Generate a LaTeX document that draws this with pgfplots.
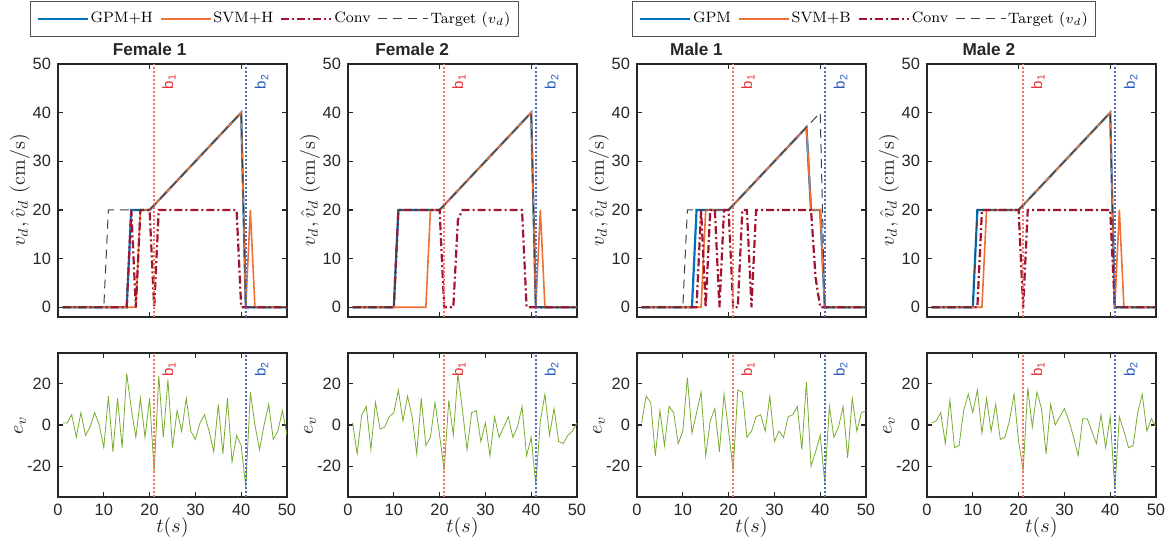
\documentclass[border=0pt]{standalone}
\usepackage{fontspec}
\setsansfont{Liberation Sans}
\usepackage{pgfplots}
\usepackage{pgfplotstable}
\pgfplotsset{compat=1.18}

\definecolor{gpm}{RGB}{0,114,189}
\definecolor{svm}{RGB}{237,112,52}
\definecolor{conv}{RGB}{162,20,47}
\definecolor{errg}{RGB}{119,172,48}
\definecolor{bone}{RGB}{250,110,90}
\definecolor{btwo}{RGB}{80,105,200}
\definecolor{bonetext}{RGB}{230,50,50}
\definecolor{btwotext}{RGB}{40,90,190}
\definecolor{axgray}{RGB}{38,38,38}

% tracking errors e_v, t = 1..50
\pgfplotstableread{
t  fa  fb  ma  mb
1   1   1   1   1
2   1 -14  14   2
3   5   5  11   6
4  -6   9 -15  -9
5   6 -12   7  12
6  -5  11 -10 -11
7  -1  -2   9 -10
8   6  -1   6   7
9   0   4  -9  15
10 -11  6  -3   6
11 14  17  23  17
12 -13  2  -4  -4
13 13  14   6  13
14 -11  4  16  -3
15 25 -14 -15  10
16  8  13   2  -7
17 -6 -10   8  -6
18 13  -6 -13   2
19 -6  11  15  15
20 13  -5  -3  -8
21 -23 -22 -22 -22
22 24  12  17  18
23 -6  -5  16  -1
24 22  25  -6  16
25 -11  7  -3   8
26  7 -12   4 -14
27 -3   6   5  10
28 13   7  -3   0
29 -3  -8  14   4
30 -7   1  -8   8
31  1 -15  -3   2
32  5   4  -6  -6
33 -3  -6   4 -15
34 -13 -1   5   3
35 10   4   9   3
36 -14 -6 -12  -3
37 13  -1  21  -9
38 -18  9 -20   5
39 -5 -15 -13 -11
40 -10 -6  -5   4
41 -30 -29 -28 -31
42 16   2   9   4
43  0  15  -6  -3
44 -12 -5  -1 -11
45  0   8   9 -10
46 10  -8 -16   6
47 -7  -9  13  15
48 -3  -5  -3  -3
49  7  -3   6   3
50 -5   1   7  -1
}\errtab

\pgfplotsset{
  panel/.style={scale only axis, width=114.5pt, xmin=0, xmax=50,
    axis line style={axgray, line width=0.8pt},
    tick style={axgray, line width=0.6pt}, major tick length=2.5pt, tick align=inside,
    tick label style={font=\sffamily\fontsize{8.2}{9}\selectfont, text=axgray},
    /pgf/number format/assume math mode=true,
    label style={font=\fontsize{10}{12}\selectfont, text=axgray},
    ylabel style={at={(axis description cs:-0.166,0.5)}, anchor=center},
    clip=true},
  toprow/.style={panel, height=126.5pt, ymin=-2, ymax=50, ytick={0,10,...,50},
    xtick={0,20,40}, xticklabels={},
    ylabel={$v_d, \hat{v}_d$ (cm/s)},
    title style={font=\sffamily\bfseries\fontsize{8.6}{10}\selectfont, text=axgray,
      anchor=base, yshift=-2pt}},
  botrow/.style={panel, height=72pt, ymin=-35, ymax=35, ytick={-20,0,20},
    xtick={0,10,...,50}, ylabel={$e_v$}, xlabel={$t(s)$},
    xlabel style={at={(axis description cs:0.5,-0.215)}, anchor=center}},
  gpmline/.style={gpm, line width=1.1pt},
  svmline/.style={svm, line width=0.8pt},
  convline/.style={conv, line width=1.1pt, dash pattern=on 4pt off 1.5pt on 1pt off 1.5pt},
  tgtline/.style={black!75, line width=0.5pt, dash pattern=on 4.5pt off 3pt},
  errline/.style={errg, line width=0.4pt},
  legstyle/.style={legend columns=4,
    legend style={anchor=center, draw=axgray!80, line width=0.5pt, fill=white,
      font=\fontsize{7.5}{8}\selectfont, inner xsep=3pt, inner ysep=4pt,
      nodes={inner xsep=1pt, inner ysep=1pt},
      /tikz/every even column/.append style={column sep=2.5pt}},
    legend image code/.code={\draw[##1] (0pt,0pt) -- (25pt,0pt);}},
}

\newcommand\blines[3]{%
  \draw[bone, line width=0.8pt, dash pattern=on 0.8pt off 1.2pt] (21,#1) -- (21,#2);
  \draw[btwo, line width=0.8pt, dash pattern=on 0.8pt off 1.2pt] (41,#1) -- (41,#2);
  \node[rotate=90, anchor=north east, inner sep=0pt, text=bonetext,
    font=\sffamily\fontsize{7.5}{8}\selectfont] at (22.7,#3) {b\textsubscript{1}};
  \node[rotate=90, anchor=north east, inner sep=0pt, text=btwotext,
    font=\sffamily\fontsize{7.5}{8}\selectfont] at (42.9,#3) {b\textsubscript{2}};
}

\begin{document}
\begin{tikzpicture}
\useasboundingbox (0,0) rectangle (584pt,-274.5pt);

% ---------- Female 1 ----------
\begin{axis}[toprow, at={(29pt,-32pt)}, anchor=north west,
  title={Female 1}, title style={at={(axis description cs:0.4,1)}},
  legstyle, legend style={at={(axis description cs:0.945,1.178)}}]
\addplot[gpmline] coordinates {(1,0)(15,0)(16,20)(20,20)(40,40)(41,0)(50,0)};
\addlegendentry{GPM+H}
\addplot[svmline] coordinates {(1,0)(17,0)(18,20)(20,20)(40,40)(41,0)(42,20)(43,0)(50,0)};
\addlegendentry{SVM+H}
\addplot[convline] coordinates {(1,0)(15,0)(16,20)(17,0)(18,20)(20,20)(21,0)(22,20)(39,20)(40,0)(50,0)};
\addlegendentry{Conv}
\addplot[tgtline] coordinates {(1,0)(10,0)(11,20)(20,20)(40,40)(41,0)(50,0)};
\addlegendentry{Target ($v_d$)}
\blines{-2}{50}{48}
\end{axis}

% ---------- Female 2 ----------
\begin{axis}[toprow, at={(174pt,-32pt)}, anchor=north west,
  title={Female 2}, title style={at={(axis description cs:0.28,1)}}]
\addplot[gpmline] coordinates {(1,0)(10,0)(11,20)(20,20)(40,40)(41,0)(50,0)};
\addplot[svmline] coordinates {(1,0)(17,0)(18,20)(20,20)(40,40)(41,0)(42,20)(43,0)(50,0)};
\addplot[convline] coordinates {(1,0)(10,0)(11,20)(20,20)(21,0)(23,0)(24,18)(25,20)(38,20)(39,0)(50,0)};
\addplot[tgtline] coordinates {(1,0)(10,0)(11,20)(20,20)(40,40)(41,0)(50,0)};
\blines{-2}{50}{48}
\end{axis}

% ---------- Male 1 ----------
\begin{axis}[toprow, at={(318.5pt,-32pt)}, anchor=north west,
  title={Male 1}, title style={at={(axis description cs:0.26,1)}},
  legstyle, legend style={at={(axis description cs:0.993,1.178)}}]
\addplot[gpmline] coordinates {(1,0)(12,0)(13,20)(20,20)(37,37)(38,20)(40,20)(41,0)(50,0)};
\addlegendentry{GPM}
\addplot[svmline] coordinates {(1,0)(14,0)(15,20)(20,20)(37,37)(38,20)(40,20)(41,0)(50,0)};
\addlegendentry{SVM+B}
\addplot[convline] coordinates {(1,0)(13,0)(14,20)(15,0)(16,20)(17,20)(18,0)(19,20)(20,20)(21,0)(22,0)(23,20)(24,20)(25,0)(26,20)(38,20)(39,6)(40,0)(50,0)};
\addlegendentry{Conv}
\addplot[tgtline] coordinates {(1,0)(10,0)(11,20)(20,20)(40,40)(41,0)(50,0)};
\addlegendentry{Target ($v_d$)}
\blines{-2}{50}{48}
\end{axis}

% ---------- Male 2 ----------
\begin{axis}[toprow, at={(463.5pt,-32pt)}, anchor=north west,
  title={Male 2}, title style={at={(axis description cs:0.27,1)}}]
\addplot[gpmline] coordinates {(1,0)(10,0)(11,20)(20,20)(40,40)(41,0)(50,0)};
\addplot[svmline] coordinates {(1,0)(12,0)(13,20)(20,20)(40,40)(41,0)(42,20)(43,0)(50,0)};
\addplot[convline] coordinates {(1,0)(11,0)(12,20)(20,20)(21,0)(22,20)(40,20)(41,0)(50,0)};
\addplot[tgtline] coordinates {(1,0)(10,0)(11,20)(20,20)(40,40)(41,0)(50,0)};
\blines{-2}{50}{48}
\end{axis}

% ---------- error row ----------
\begin{axis}[botrow, at={(29pt,-176.5pt)}, anchor=north west]
\addplot[errline] table[x=t, y=fa] {\errtab};
\blines{-35}{35}{31}
\end{axis}
\begin{axis}[botrow, at={(174pt,-176.5pt)}, anchor=north west]
\addplot[errline] table[x=t, y=fb] {\errtab};
\blines{-35}{35}{31}
\end{axis}
\begin{axis}[botrow, at={(318.5pt,-176.5pt)}, anchor=north west]
\addplot[errline] table[x=t, y=ma] {\errtab};
\blines{-35}{35}{31}
\end{axis}
\begin{axis}[botrow, at={(463.5pt,-176.5pt)}, anchor=north west]
\addplot[errline] table[x=t, y=mb] {\errtab};
\blines{-35}{35}{31}
\end{axis}
\end{tikzpicture}
\end{document}
